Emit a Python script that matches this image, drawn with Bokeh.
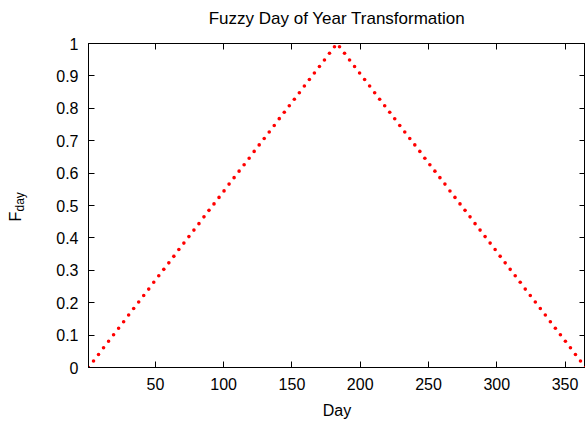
import math
from bokeh.plotting import figure
from bokeh.layouts import row
from bokeh.models import (Label, LinearAxis, FixedTicker, CustomJSTickFormatter,
                          Range1d, ColumnDataSource)
from bokeh.embed import file_html
from bokeh.resources import INLINE

# ---- data ----
day = [1.00, 4.68, 8.35, 12.03, 15.71, 19.38, 23.06, 26.74, 30.41, 34.09,
       37.77, 41.44, 45.12, 48.80, 52.47, 56.15, 59.83, 63.51, 67.18, 70.86,
       74.54, 78.21, 81.89, 85.57, 89.24, 92.92, 96.60, 100.27, 103.95, 107.63,
       111.30, 114.98, 118.66, 122.33, 126.01, 129.69, 133.36, 137.04, 140.72, 144.39,
       148.07, 151.75, 155.42, 159.10, 162.78, 166.45, 170.13, 173.81, 177.48, 181.16,
       184.84, 188.52, 192.19, 195.87, 199.55, 203.22, 206.90, 210.58, 214.25, 217.93,
       221.61, 225.28, 228.96, 232.64, 236.31, 239.99, 243.67, 247.34, 251.02, 254.70,
       258.37, 262.05, 265.73, 269.40, 273.08, 276.76, 280.43, 284.11, 287.79, 291.46,
       295.14, 298.82, 302.49, 306.17, 309.85, 313.53, 317.20, 320.88, 324.56, 328.23,
       331.91, 335.59, 339.26, 342.94, 346.62, 350.29, 353.97, 357.65, 361.32, 365.00]
f_day = [0.000, 0.020, 0.040, 0.061, 0.081, 0.101, 0.121, 0.141, 0.162, 0.182,
         0.202, 0.222, 0.242, 0.263, 0.283, 0.303, 0.323, 0.343, 0.364, 0.384,
         0.404, 0.424, 0.444, 0.465, 0.485, 0.505, 0.525, 0.545, 0.566, 0.586,
         0.606, 0.626, 0.646, 0.667, 0.687, 0.707, 0.727, 0.747, 0.768, 0.788,
         0.808, 0.828, 0.848, 0.869, 0.889, 0.909, 0.929, 0.949, 0.970, 0.990,
         0.990, 0.970, 0.949, 0.929, 0.909, 0.889, 0.869, 0.848, 0.828, 0.808,
         0.788, 0.768, 0.747, 0.727, 0.707, 0.687, 0.667, 0.646, 0.626, 0.606,
         0.586, 0.566, 0.545, 0.525, 0.505, 0.485, 0.465, 0.444, 0.424, 0.404,
         0.384, 0.364, 0.343, 0.323, 0.303, 0.283, 0.263, 0.242, 0.222, 0.202,
         0.182, 0.162, 0.141, 0.121, 0.101, 0.081, 0.061, 0.040, 0.020, 0.000]
x_ticks = [50, 100, 150, 200, 250, 300, 350]
y_ticks = [0.0, 0.1, 0.2, 0.3, 0.4, 0.5, 0.6, 0.7, 0.8, 0.9, 1.0]
x_range_limits = [1, 365]
y_range_limits = [0, 1]
title_text = "Fuzzy Day of Year Transformation"
x_label = "Day"
y_label_main = "F"
y_label_sub = "day"

FONT = "Liberation Sans"
FS = "16px"
LEFT_W = 30

# narrow strip holding the rotated y label (F with subscript "day")
lab_fig = figure(width=LEFT_W, height=422, x_axis_type=None, y_axis_type=None,
                 output_backend="svg", toolbar_location=None,
                 min_border_left=0, min_border_right=0, min_border_top=0, min_border_bottom=0)
lab_fig.outline_line_color = None
lab_fig.xgrid.visible = False
lab_fig.ygrid.visible = False
lab_fig.add_layout(Label(x=15, y=146, x_units="screen", y_units="screen", text=y_label_main,
                         angle=math.pi / 2, text_align="left", text_baseline="alphabetic",
                         text_font=FONT, text_font_size=FS, text_color="black"))
lab_fig.add_layout(Label(x=19, y=156, x_units="screen", y_units="screen", text=y_label_sub,
                         angle=math.pi / 2, text_align="left", text_baseline="alphabetic",
                         text_font=FONT, text_font_size="12px", text_color="black"))

p = figure(width=585 - LEFT_W, height=422,
           x_range=Range1d(*x_range_limits), y_range=Range1d(*y_range_limits),
           output_backend="svg", toolbar_location=None,
           min_border_left=88 - LEFT_W, min_border_right=0, min_border_top=43, min_border_bottom=55)

p.xgrid.visible = False
p.ygrid.visible = False
p.outline_line_color = "black"
p.outline_line_width = 1
p.background_fill_color = "white"
p.border_fill_color = "white"

src = ColumnDataSource(dict(day=day, f=f_day))
p.scatter("day", "f", source=src, size=3.6, fill_color="red", line_color=None, marker="circle")

ynum_fmt = CustomJSTickFormatter(code="""
var s = tick.toFixed(1);
if (s.endsWith('.0')) { s = s.slice(0, -2); }
return s;
""")
blank_fmt = CustomJSTickFormatter(code="return '';")

for ax in p.xaxis:
    ax.ticker = FixedTicker(ticks=x_ticks)
    ax.axis_label = x_label
    ax.axis_label_text_font = FONT
    ax.axis_label_text_font_size = FS
    ax.axis_label_text_font_style = "normal"
    ax.axis_label_text_color = "black"
    ax.axis_label_standoff = 9
    ax.major_label_text_font = FONT
    ax.major_label_text_font_size = FS
    ax.major_label_text_color = "black"
    ax.major_label_standoff = 10
    ax.major_tick_in = 6
    ax.major_tick_out = 0
    ax.minor_tick_in = 0
    ax.minor_tick_out = 0
    ax.axis_line_color = "black"
    ax.major_tick_line_color = "black"

for ax in p.yaxis:
    ax.ticker = FixedTicker(ticks=y_ticks)
    ax.formatter = ynum_fmt
    ax.major_label_text_font = FONT
    ax.major_label_text_font_size = FS
    ax.major_label_text_color = "black"
    ax.major_label_standoff = 10
    ax.major_tick_in = 6
    ax.major_tick_out = 0
    ax.minor_tick_in = 0
    ax.minor_tick_out = 0
    ax.axis_line_color = "black"
    ax.major_tick_line_color = "black"

# top mirror axis; its label carries the chart title
top_ax = LinearAxis(ticker=FixedTicker(ticks=x_ticks), formatter=blank_fmt,
                    major_tick_in=6, major_tick_out=0, minor_tick_in=0, minor_tick_out=0,
                    major_label_standoff=0, axis_line_color="black", major_tick_line_color="black",
                    axis_label=title_text, axis_label_text_font=FONT,
                    axis_label_text_font_size="17px", axis_label_text_font_style="normal",
                    axis_label_text_color="black", axis_label_standoff=16)
p.add_layout(top_ax, "above")
right_ax = LinearAxis(ticker=FixedTicker(ticks=y_ticks), formatter=blank_fmt,
                      major_tick_in=6, major_tick_out=0, minor_tick_in=0, minor_tick_out=0,
                      major_label_standoff=0, axis_line_color="black", major_tick_line_color="black")
p.add_layout(right_ax, "right")

layout = row(lab_fig, p, spacing=0)
open("out.html", "w").write(file_html(layout, INLINE))
